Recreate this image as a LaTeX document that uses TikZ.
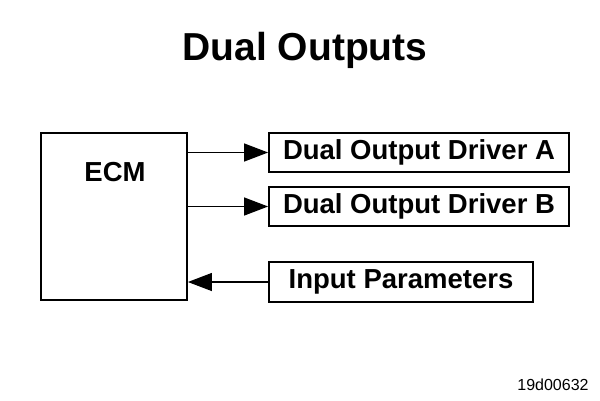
\documentclass[tikz,border=0pt]{standalone}
\usepackage{fontspec}
\setmainfont{Liberation Sans}
\usetikzlibrary{arrows.meta}

\begin{document}
\begin{tikzpicture}[x=1pt,y=-1pt,
  box/.style={draw,line width=1.8pt,inner sep=0pt,font=\fontsize{27.5}{30}\selectfont\bfseries},
  sig/.style={line width=1.2pt,-{Triangle[length=24pt,width=18pt]}}]
\useasboundingbox (0,0) rectangle (600,400);
\node[font=\fontsize{39}{44}\selectfont\bfseries] (title) at (305,50) {Dual Outputs};
\node[box,minimum width=146pt,minimum height=167pt] (ecm) at (114,216.5) {};
\node[font=\fontsize{27.5}{30}\selectfont\bfseries] (ecmlabel) at (115,172) {ECM};
\node[box,minimum width=300pt,minimum height=39pt] (drvA) at (419,152.5) {Dual Output Driver A};
\node[box,minimum width=300pt,minimum height=39pt] (drvB) at (419,206.5) {Dual Output Driver B};
\node[box,minimum width=264pt,minimum height=40pt] (inp) at (401,282) {Input Parameters};
\draw[sig] (drvA.west -| ecm.east) -- (drvA.west);
\draw[sig] (drvB.west -| ecm.east) -- (drvB.west);
\draw[sig] (inp.west) -- (inp.west -| ecm.east);
\node[font=\fontsize{16}{18}\selectfont] (code) at (553,385) {19d00632};
\end{tikzpicture}
\end{document}
